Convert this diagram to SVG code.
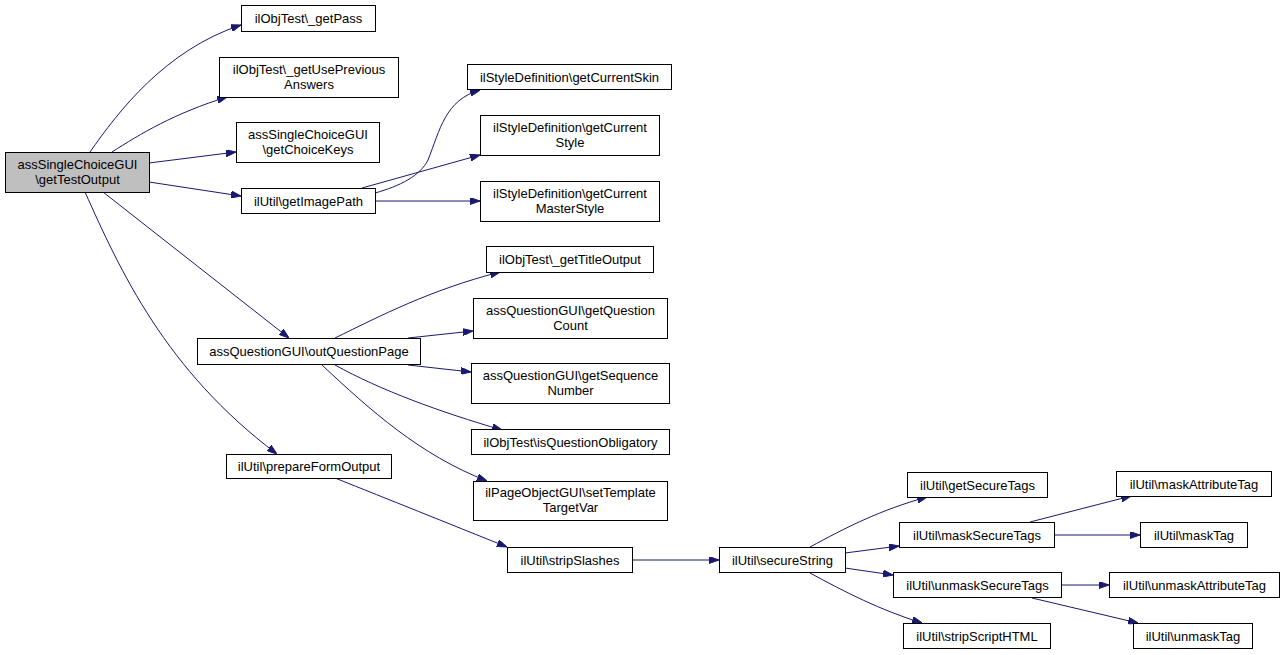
<svg xmlns="http://www.w3.org/2000/svg" width="1284" height="655" viewBox="0 0 1284 655">
<style>
.n rect{fill:#fff;stroke:#000;stroke-width:1}
.n text{font-family:"Liberation Sans",Arial,sans-serif;font-size:13px;text-anchor:middle;fill:#000}
#root rect{fill:#bfbfbf}
#edges path{fill:none;stroke:#191970;stroke-width:1;marker-end:url(#ah)}
</style>
<defs>
<marker id="ah" viewBox="0 0 10 7" refX="10" refY="3.5" markerWidth="10" markerHeight="7" markerUnits="userSpaceOnUse" orient="auto">
<path d="M0,0 L10,3.5 L0,7 z" fill="#191970" stroke="#191970"/>
</marker>
</defs>
<rect width="1284" height="655" fill="#fff"/>
<g id="edges">
<path d="M90,152 C118,112 165,50 241,25"/>
<path d="M112,152 C140,134 175,113 227,97"/>
<path d="M149,163 L236,152"/>
<path d="M149,182 L241,196"/>
<path d="M103,192 L289,338"/>
<path d="M85,192 C120,270 165,370 277,454"/>
<path d="M375,193 C400,186 420,176 428,160 C440,130 445,100 480,90"/>
<path d="M362,188 L480,155"/>
<path d="M375,201 L480,201"/>
<path d="M335,338 C380,316 430,290 500,272"/>
<path d="M408,338 L473,331"/>
<path d="M408,365 L471,372"/>
<path d="M335,365 C380,390 440,412 502,430"/>
<path d="M322,365 C370,410 420,455 487,481"/>
<path d="M335,478 C390,500 445,522 507,547"/>
<path d="M632,560 L719,560"/>
<path d="M810,547 C845,528 880,510 927,497"/>
<path d="M845,553 L899,546"/>
<path d="M845,568 L893,575"/>
<path d="M810,573 C845,592 880,610 922,623"/>
<path d="M1030,522 L1131,496"/>
<path d="M1055,535 L1140,535"/>
<path d="M1061,585 L1109,585"/>
<path d="M1032,598 L1138,623"/>
</g>
<g id="root" class="n"><rect x="5.5" y="152.5" width="144" height="40"/><text x="77.5" y="168.5">assSingleChoiceGUI</text><text x="77.5" y="183.5">\getTestOutput</text></g>
<g id="n_getPass" class="n"><rect x="241.5" y="5.5" width="134" height="26"/><text x="308.5" y="23">ilObjTest\_getPass</text></g>
<g id="n_getUsePrev" class="n"><rect x="219.5" y="57.5" width="179" height="40"/><text x="309" y="73.5">ilObjTest\_getUsePrevious</text><text x="309" y="88.5">Answers</text></g>
<g id="n_getChoiceKeys" class="n"><rect x="236.5" y="122.5" width="143" height="40"/><text x="308" y="138.5">assSingleChoiceGUI</text><text x="308" y="153.5">\getChoiceKeys</text></g>
<g id="n_getImagePath" class="n"><rect x="241.5" y="188.5" width="134" height="25"/><text x="308.5" y="205.5">ilUtil\getImagePath</text></g>
<g id="n_skin" class="n"><rect x="467.5" y="64.5" width="204" height="25"/><text x="569.5" y="81.5">ilStyleDefinition\getCurrentSkin</text></g>
<g id="n_style" class="n"><rect x="480.5" y="115.5" width="179" height="40"/><text x="570" y="131.5">ilStyleDefinition\getCurrent</text><text x="570" y="146.5">Style</text></g>
<g id="n_master" class="n"><rect x="480.5" y="181.5" width="179" height="40"/><text x="570" y="197.5">ilStyleDefinition\getCurrent</text><text x="570" y="212.5">MasterStyle</text></g>
<g id="n_title" class="n"><rect x="486.5" y="246.5" width="167" height="26"/><text x="570" y="264">ilObjTest\_getTitleOutput</text></g>
<g id="n_qcount" class="n"><rect x="473.5" y="298.5" width="194" height="40"/><text x="570.5" y="314.5">assQuestionGUI\getQuestion</text><text x="570.5" y="329.5">Count</text></g>
<g id="n_outQ" class="n"><rect x="197.5" y="338.5" width="223" height="26"/><text x="309" y="356">assQuestionGUI\outQuestionPage</text></g>
<g id="n_seq" class="n"><rect x="471.5" y="363.5" width="198" height="40"/><text x="570.5" y="379.5">assQuestionGUI\getSequence</text><text x="570.5" y="394.5">Number</text></g>
<g id="n_oblig" class="n"><rect x="471.5" y="429.5" width="198" height="25"/><text x="570.5" y="446.5">ilObjTest\isQuestionObligatory</text></g>
<g id="n_tvar" class="n"><rect x="473.5" y="481.5" width="194" height="39"/><text x="570.5" y="497">ilPageObjectGUI\setTemplate</text><text x="570.5" y="512">TargetVar</text></g>
<g id="n_prep" class="n"><rect x="226.5" y="454.5" width="165" height="24"/><text x="309" y="471">ilUtil\prepareFormOutput</text></g>
<g id="n_strip" class="n"><rect x="507.5" y="547.5" width="125" height="25"/><text x="570" y="564.5">ilUtil\stripSlashes</text></g>
<g id="n_secure" class="n"><rect x="719.5" y="547.5" width="126" height="25"/><text x="782.5" y="564.5">ilUtil\secureString</text></g>
<g id="n_getSec" class="n"><rect x="907.5" y="472.5" width="140" height="25"/><text x="977.5" y="489.5">ilUtil\getSecureTags</text></g>
<g id="n_maskSec" class="n"><rect x="899.5" y="522.5" width="155" height="25"/><text x="977" y="539.5">ilUtil\maskSecureTags</text></g>
<g id="n_unmaskSec" class="n"><rect x="893.5" y="572.5" width="168" height="25"/><text x="977.5" y="589.5">ilUtil\unmaskSecureTags</text></g>
<g id="n_stripScript" class="n"><rect x="903.5" y="623.5" width="147" height="25"/><text x="977" y="640.5">ilUtil\stripScriptHTML</text></g>
<g id="n_maskAttr" class="n"><rect x="1116.5" y="471.5" width="155" height="25"/><text x="1194" y="488.5">ilUtil\maskAttributeTag</text></g>
<g id="n_maskTag" class="n"><rect x="1140.5" y="522.5" width="107" height="25"/><text x="1194" y="539.5">ilUtil\maskTag</text></g>
<g id="n_unmaskAttr" class="n"><rect x="1109.5" y="572.5" width="170" height="25"/><text x="1194.5" y="589.5">ilUtil\unmaskAttributeTag</text></g>
<g id="n_unmaskTag" class="n"><rect x="1133.5" y="623.5" width="119" height="25"/><text x="1193" y="640.5">ilUtil\unmaskTag</text></g>
</svg>
